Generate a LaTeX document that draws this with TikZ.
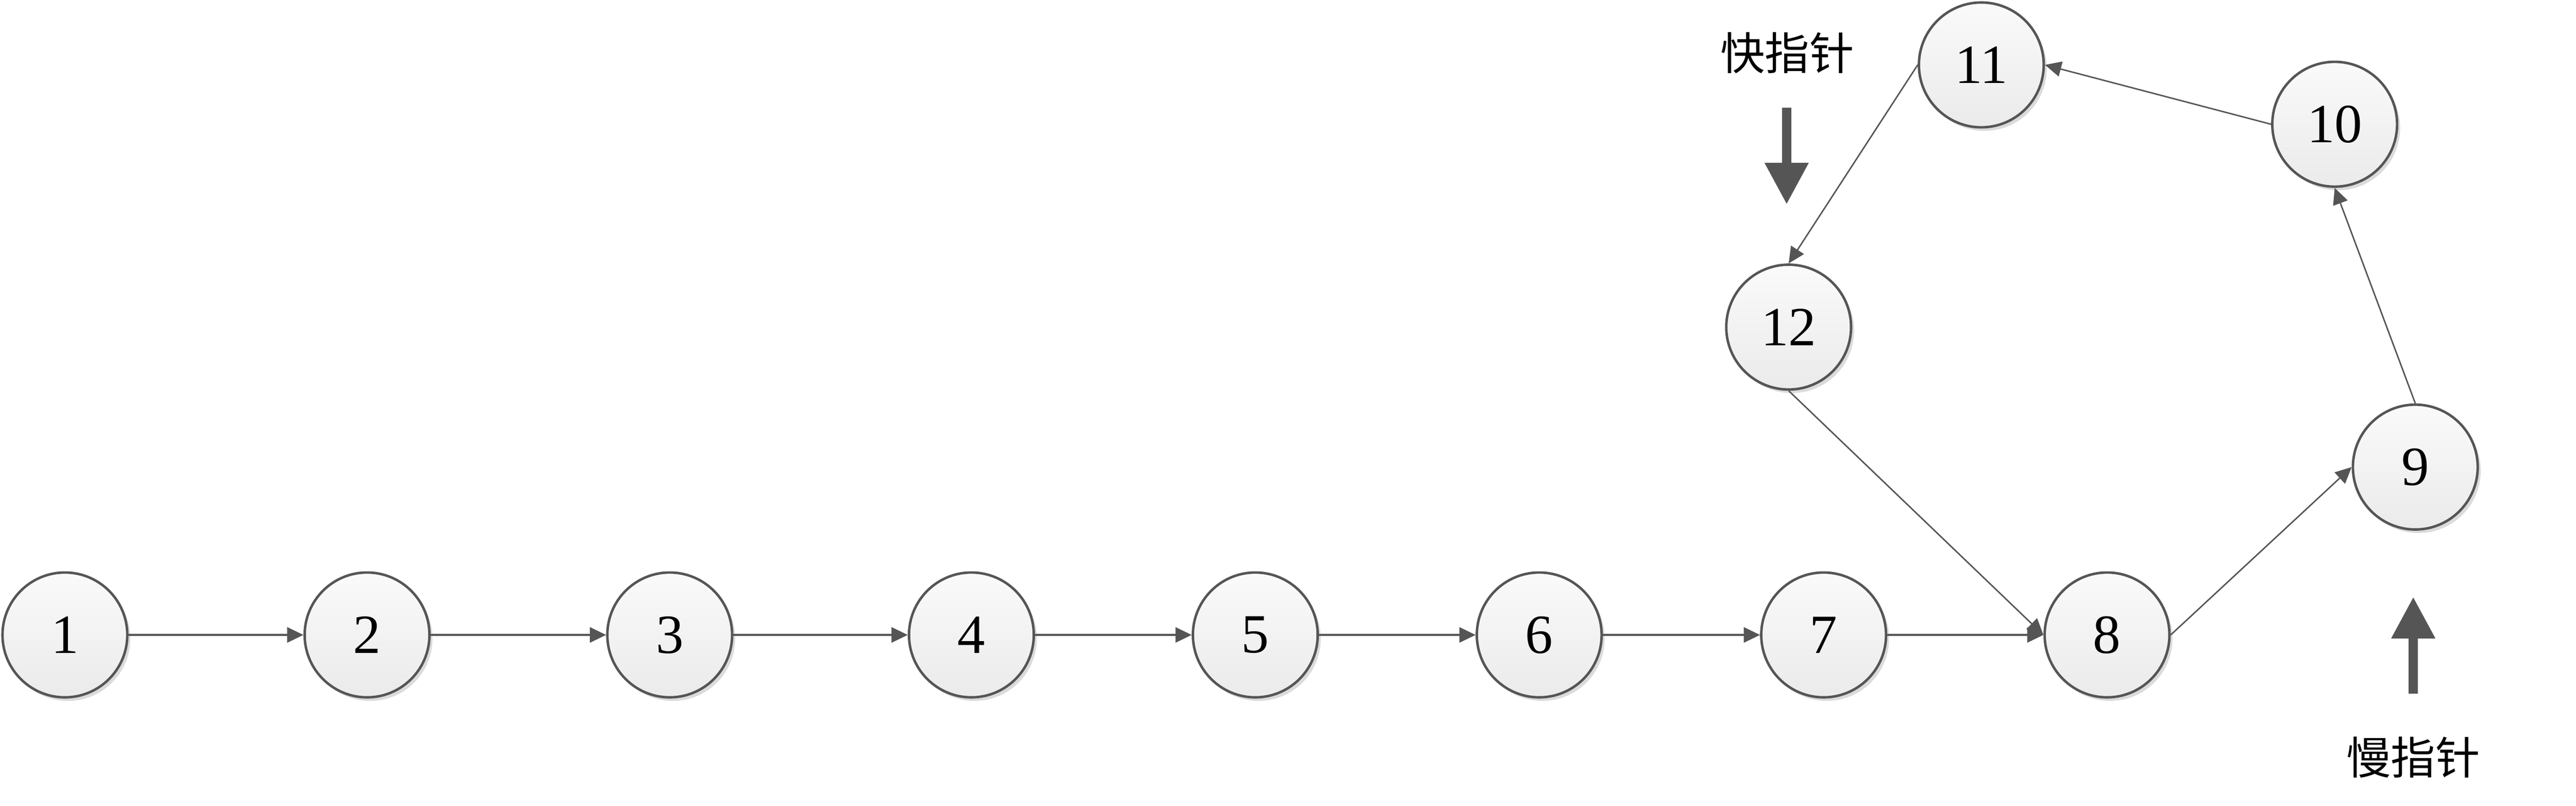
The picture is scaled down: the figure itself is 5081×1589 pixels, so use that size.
\documentclass[tikz,border=0pt]{standalone}
\usepackage{fontspec}
\setmainfont{Liberation Serif}
\newfontfamily\cjk{Noto Sans CJK SC}
\usetikzlibrary{arrows.meta,shadows}
\definecolor{edgec}{HTML}{555555}
\begin{document}
\begin{tikzpicture}[x=0.01cm,y=-0.01cm,
  listnode/.style={circle,draw=edgec,line width=1.4pt,inner sep=0pt,minimum size=2.46cm,
    top color=white!98!black,bottom color=black!8,
    drop shadow={shadow xshift=0.06cm,shadow yshift=-0.07cm,fill=black!14,opacity=1},
    font=\fontsize{31}{36}\selectfont},
  link/.style={draw=edgec,line width=1pt,-{Triangle[length=0.32cm,width=0.30cm]},fill=edgec},
  thinlink/.style={link,line width=0.8pt},
  bigarrow/.style={draw=edgec,line width=0.18cm,-{Triangle[length=0.82cm,width=0.82cm]},fill=edgec},
  label/.style={font=\cjk\fontsize{25}{30}\selectfont,inner sep=0pt}]
\useasboundingbox (0,0) rectangle (5081,1589);
\node[listnode] (n1) at (128,1252) {1};
\node[listnode] (n2) at (724,1252) {2};
\node[listnode] (n3) at (1321,1252) {3};
\node[listnode] (n4) at (1916,1252) {4};
\node[listnode] (n5) at (2476,1252) {5};
\node[listnode] (n6) at (3036,1252) {6};
\node[listnode] (n7) at (3597,1252) {7};
\node[listnode] (n8) at (4156,1252) {8};
\node[listnode] (n9) at (4764,921) {9};
\node[listnode] (n10) at (4605,245) {10};
\node[listnode] (n11) at (3908,128) {11};
\node[listnode] (n12) at (3528,645) {12};
\draw[link] (n1.east) -- (n2.west);
\draw[link] (n2.east) -- (n3.west);
\draw[link] (n3.east) -- (n4.west);
\draw[link] (n4.east) -- (n5.west);
\draw[link] (n5.east) -- (n6.west);
\draw[link] (n6.east) -- (n7.west);
\draw[link] (n7.east) -- (n8.west);
\draw[thinlink] (n8.east) -- (n9.west);
\draw[thinlink] (n9.north) -- (n10.south);
\draw[thinlink] (n10.west) -- (n11.east);
\draw[thinlink] (n11.west) -- (n12.north);
\draw[thinlink] (n12.south) -- (n8.west);
\node[label] (fast) at (3525,104) {快指针};
\node[label] (slow) at (4760,1493) {慢指针};
\coordinate (fasttail) at (3524,212);
\coordinate (fasttip) at (3524,403);
\coordinate (slowtail) at (4760,1368);
\coordinate (slowtip) at (4760,1177);
\draw[bigarrow] (fasttail) -- (fasttip);
\draw[bigarrow] (slowtail) -- (slowtip);
\end{tikzpicture}
\end{document}
